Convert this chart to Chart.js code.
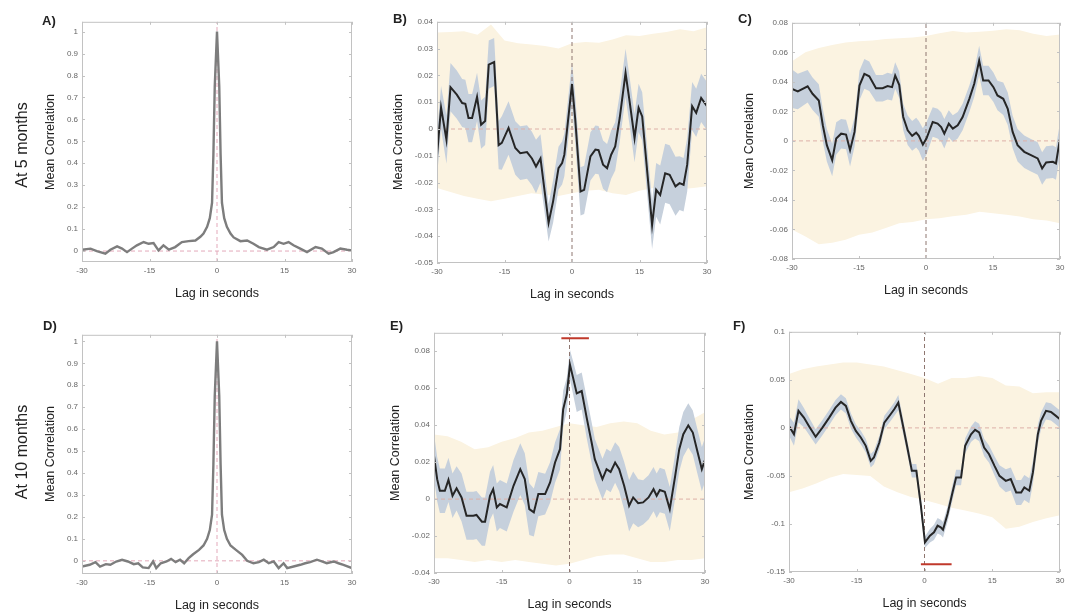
<!DOCTYPE html>
<html>
<head>
<meta charset="utf-8">
<script src="https://cdn.jsdelivr.net/npm/chart.js@4.4.1/dist/chart.umd.min.js"></script>
<style>
  body { margin: 0; width: 1066px; height: 615px; position: relative; overflow: hidden; background: #fff;
         font-family: "Liberation Sans", Arial, sans-serif; color: #222; }
  canvas { position: absolute; }
  .txt { position: absolute; white-space: nowrap; transform: translate(-50%, -50%); }
  .rot { transform: translate(-50%, -50%) rotate(-90deg); }
  .ttl { font-size: 12.5px; }
  .row { font-size: 16px; }
  .tag { position: absolute; font-size: 13px; font-weight: bold; }
</style>
</head>
<body>
<script>
// lag axis + tick labels
const X_TICKS = [-30, -15, 0, 15, 30];
const Y_TICKS_ACF = [0, 0.1, 0.2, 0.3, 0.4, 0.5, 0.6, 0.7, 0.8, 0.9, 1];
const Y_TICKS_B = [-0.05, -0.04, -0.03, -0.02, -0.01, 0, 0.01, 0.02, 0.03, 0.04];
const Y_TICKS_C = [-0.08, -0.06, -0.04, -0.02, 0, 0.02, 0.04, 0.06, 0.08];
const Y_TICKS_E = [-0.04, -0.02, 0, 0.02, 0.04, 0.06, 0.08];
const Y_TICKS_F = [-0.15, -0.1, -0.05, 0, 0.05, 0.1];

// A) autocorrelation, 5 months
const lagA = [-30, -28.1, -26.7, -24.8, -23.7, -22.2, -21.1, -20, -18.9, -17.8,
  -16.3, -15.2, -14.1, -13, -11.9, -10.7, -9.3, -7.8, -6.3, -4.8,
  -3.7, -3, -2.2, -1.6, -1.1, -0.8, -0.5, 0, 0.5, 0.8,
  1.1, 1.6, 2.2, 3, 3.7, 5.2, 6.7, 8.1, 9.3, 11.1,
  12.6, 13.7, 14.8, 15.9, 17, 18.5, 20, 21.9, 23.3, 24.8,
  25.9, 27.4, 28.9, 30];
const acfA = [0.006, 0.011, 0, -0.012, 0.006, 0.021, 0.011, -0.005, 0.011, 0.026,
  0.041, 0.033, 0.036, 0.003, 0.026, 0.006, 0.018, 0.041, 0.045, 0.048,
  0.065, 0.08, 0.11, 0.15, 0.22, 0.44, 0.75, 1.0, 0.75, 0.44,
  0.22, 0.15, 0.11, 0.08, 0.062, 0.045, 0.048, 0.033, 0.018, 0.006,
  0.018, 0.041, 0.033, 0.041, 0.026, 0.011, -0.005, 0.018, 0.011, -0.012,
  -0.005, 0.011, 0.006, 0.003];

// D) autocorrelation, 10 months
const lagD = [-30, -28.3, -27, -26, -24.7, -23.7, -22.4, -21.1, -19.8, -18.5,
  -17.5, -16.5, -15.2, -14.2, -13.5, -12.5, -11.2, -10.2, -9.2, -8.2,
  -7.3, -6.3, -5.3, -4, -3, -2.2, -1.6, -1.1, -0.8, -0.5,
  0, 0.5, 0.8, 1.1, 1.6, 2.2, 3, 4.2, 5.6, 6.7,
  8.1, 9.3, 10.4, 11.5, 12.6, 13.7, 14.8, 15.6, 17, 18.5,
  19.6, 20.7, 22.2, 23.3, 24.4, 25.9, 27, 28.1, 30];
const acfD = [-0.026, -0.018, -0.006, -0.026, -0.015, -0.018, -0.003, 0.005, -0.003, -0.015,
  -0.011, -0.03, -0.033, -0.003, -0.033, -0.011, -0.003, 0.009, -0.006, 0.005,
  -0.011, 0.012, 0.03, 0.05, 0.07, 0.1, 0.14, 0.21, 0.44, 0.75,
  1.0, 0.75, 0.44, 0.21, 0.14, 0.1, 0.07, 0.05, 0.027, 0,
  -0.011, -0.006, 0.005, -0.011, -0.003, -0.033, -0.011, -0.033, -0.026, -0.018,
  -0.011, -0.006, 0.005, -0.003, -0.011, -0.003, -0.011, -0.018, -0.033];

// B) cross-correlation, 5 months
const lagB = [-30, -29.1, -27.9, -27, -25.6, -24.4, -23.7, -23, -22.2, -21.1,
  -20.2, -19.3, -18.5, -17.3, -16.3, -15.6, -14.1, -12.6, -11.5, -10,
  -8.9, -8, -7, -5.2, -4.2, -3, -2.2, -1.7, 0, 0.7,
  1.9, 2.7, 4.1, 5.2, 5.9, 6.9, 7.8, 8.7, 9.6, 10.6,
  11.9, 12.8, 13.9, 14.8, 15.6, 17.8, 18.7, 19.6, 20.7, 21.7,
  23, 23.9, 24.8, 25.6, 26.7, 27.6, 28.7, 30];
const meanB = [-0.010, 0.008, -0.004, 0.0156, 0.0128, 0.0097, 0.0094, 0.0041, 0.0041, 0.012,
  0.0016, 0.003, 0.024, 0.025, -0.006, -0.0052, 0.0004, -0.0071, -0.009, -0.0086,
  -0.011, -0.014, -0.011, -0.035, -0.027, -0.0146, -0.0127, -0.0096, 0.0168, 0.004,
  -0.0233, -0.0227, -0.0102, -0.0077, -0.0079, -0.0133, -0.0146, -0.0096, -0.0065, 0.0041,
  0.0209, 0.0103, -0.0034, 0.0079, 0.0047, -0.0358, -0.0227, -0.0246, -0.0165, -0.0171,
  -0.0214, -0.0202, -0.0208, -0.0133, 0.0085, 0.006, 0.0116, 0.0085];
const semB = [0.008, 0.008, 0.009, 0.009, 0.009, 0.009, 0.009, 0.009, 0.009, 0.009,
  0.009, 0.009, 0.009, 0.009, 0.009, 0.010, 0.010, 0.010, 0.010, 0.010,
  0.010, 0.010, 0.009, 0.007, 0.008, 0.008, 0.008, 0.008, 0.008, 0.009,
  0.009, 0.009, 0.009, 0.009, 0.009, 0.009, 0.009, 0.009, 0.009, 0.009,
  0.009, 0.009, 0.009, 0.009, 0.009, 0.009, 0.010, 0.011, 0.011, 0.011,
  0.011, 0.010, 0.010, 0.010, 0.009, 0.009, 0.009, 0.009];

// C) cross-correlation, 5 months
const lagC = [-30, -28.7, -26.5, -25.4, -24, -23.1, -22.2, -21, -20.1, -19,
  -17.9, -17, -16, -14.9, -13.8, -12.7, -11.2, -9.7, -8.6, -7.6,
  -6.9, -6, -5.1, -4.1, -3.1, -2.2, -1.6, -0.7, 0.1, 1.5,
  2.6, 3.4, 4.1, 5.1, 6, 7.1, 8.2, 9.7, 10.8, 11.9,
  12.8, 14, 15.1, 16, 17.3, 18.3, 19.4, 20.5, 22, 23.5,
  25, 26, 26.9, 28.4, 29.1, 30];
const meanC = [0.0353, 0.0335, 0.037, 0.0319, 0.0274, 0.0106, -0.0029, -0.013, 0.0016, 0.0049,
  0.0043, -0.0063, 0.0061, 0.0375, 0.0454, 0.0438, 0.0357, 0.0357, 0.0371, 0.0364,
  0.0443, 0.038, 0.0162, 0.0072, 0.0034, 0.0056, 0.0034, -0.0025, 0.0016, 0.0128,
  0.0117, 0.0094, 0.0049, 0.0117, 0.0083, 0.0106, 0.0162, 0.0285, 0.0387, 0.0544,
  0.0409, 0.0409, 0.0364, 0.0308, 0.0285, 0.0218, 0.0061, -0.0029, -0.0074, -0.0097,
  -0.0119, -0.0187, -0.0146, -0.0142, -0.0153, 0.0016];
const semC = [0.013, 0.012, 0.011, 0.011, 0.011, 0.011, 0.011, 0.011, 0.011, 0.010,
  0.010, 0.011, 0.010, 0.010, 0.010, 0.010, 0.009, 0.009, 0.009, 0.009,
  0.009, 0.009, 0.009, 0.010, 0.010, 0.010, 0.010, 0.011, 0.011, 0.010,
  0.010, 0.010, 0.010, 0.009, 0.009, 0.009, 0.009, 0.009, 0.009, 0.010,
  0.010, 0.010, 0.010, 0.010, 0.011, 0.011, 0.011, 0.011, 0.011, 0.011,
  0.011, 0.011, 0.011, 0.011, 0.011, 0.011];

// E) cross-correlation, 10 months
const lagE = [-30, -29.3, -28.7, -27.6, -26.8, -25.9, -25, -23.9, -22.8, -21.3,
  -20.6, -19.4, -18.7, -17.6, -16.9, -16.1, -15.4, -13.9, -12.4, -10.9,
  -9.9, -8.9, -7.9, -6.9, -5.4, -4.3, -3.2, -2.1, -1.4, -0.6,
  0.1, 0.8, 1.6, 2.7, 3.8, 4.9, 5.6, 6.6, 7.3, 8.2,
  9.1, 10.1, 11, 12.1, 13.2, 14.1, 15.2, 16.3, 17.5, 18.6,
  19.3, 20, 21.1, 22.2, 23.4, 24.3, 25.2, 26.3, 27.3, 28.2,
  29.3, 30];
const meanE = [0.0234, 0.0108, 0.0045, 0.0045, 0.0104, 0.0018, 0.0058, 0.0009, -0.009, -0.009,
  -0.0086, -0.0122, -0.0122, 0.0018, 0.0054, -0.0045, -0.0027, -0.0045, 0.0072, 0.0162,
  0.0108, -0.0054, -0.0072, 0.0027, 0.0027, 0.009, 0.0198, 0.027, 0.0486, 0.0567,
  0.0728, 0.0656, 0.0572, 0.0585, 0.0441, 0.0306, 0.0216, 0.0153, 0.0108, 0.0162,
  0.0147, 0.0198, 0.0162, 0.0072, -0.0036, 0.0009, -0.0022, -0.0018, 0.0009, 0.0054,
  0.0018, 0.0049, 0.004, -0.0054, 0.0126, 0.027, 0.0351, 0.0399, 0.036, 0.027,
  0.0162, 0.0212];
const semE = [0.012, 0.012, 0.012, 0.012, 0.012, 0.012, 0.012, 0.013, 0.013, 0.013,
  0.013, 0.013, 0.013, 0.013, 0.013, 0.013, 0.013, 0.013, 0.014, 0.014,
  0.014, 0.014, 0.013, 0.012, 0.011, 0.011, 0.011, 0.011, 0.010, 0.009,
  0.008, 0.009, 0.010, 0.010, 0.011, 0.011, 0.011, 0.011, 0.011, 0.011,
  0.011, 0.011, 0.012, 0.013, 0.014, 0.014, 0.013, 0.012, 0.012, 0.012,
  0.012, 0.012, 0.012, 0.012, 0.012, 0.012, 0.012, 0.012, 0.012, 0.012,
  0.012, 0.012];

// F) cross-correlation, 10 months
const lagF = [-30, -28.9, -27.9, -26.7, -25.6, -24.1, -22.6, -21.1, -19.7, -18.5,
  -17.4, -16.3, -15.2, -14.1, -13, -11.9, -11.2, -10, -8.9, -7.5,
  -6.7, -5.8, -4.9, -3.8, -2.8, -1.8, -0.8, 0.1, 1.2, 2.1,
  2.9, 3.6, 4.1, 5.1, 6.2, 7, 8.1, 9, 10.3, 11.2,
  12.1, 13.2, 14.3, 15.5, 16.6, 18, 19.1, 20.3, 21.4, 22.1,
  23.2, 24, 25.1, 25.8, 26.9, 28, 29.1, 30];
const meanF = [0.002, -0.0066, 0.0177, 0.0107, 0.002, -0.0093, 0.0003, 0.0107, 0.0211, 0.027,
  0.0229, 0.0073, -0.0031, -0.01, -0.0187, -0.0343, -0.0308, -0.0152, 0.0055, 0.0142,
  0.0194, 0.0263, 0.0055, -0.0204, -0.0447, -0.0447, -0.081, -0.1191, -0.1122, -0.1087,
  -0.1018, -0.1035, -0.106, -0.0897, -0.0672, -0.0516, -0.0516, -0.0187, -0.0066, -0.0021,
  -0.0048, -0.0204, -0.0274, -0.0395, -0.0499, -0.0551, -0.0533, -0.0672, -0.0672, -0.062,
  -0.0654, -0.0464, -0.0066, 0.0073, 0.0177, 0.0166, 0.0125, 0.009];
const semF = [0.010, 0.012, 0.012, 0.010, 0.009, 0.008, 0.008, 0.008, 0.008, 0.008,
  0.008, 0.008, 0.007, 0.007, 0.007, 0.007, 0.007, 0.007, 0.007, 0.007,
  0.007, 0.008, 0.008, 0.007, 0.007, 0.007, 0.007, 0.006, 0.007, 0.008,
  0.008, 0.008, 0.008, 0.008, 0.008, 0.008, 0.008, 0.008, 0.008, 0.009,
  0.009, 0.009, 0.009, 0.010, 0.011, 0.012, 0.012, 0.013, 0.013, 0.013,
  0.013, 0.012, 0.010, 0.009, 0.009, 0.009, 0.009, 0.009];

// surrogate (null) 95% envelopes, sampled every 3 s
const NULL_LAG = [-30, -27, -24, -21, -18, -15, -12, -9, -6, -3, 0, 3, 6, 9, 12, 15, 18, 21, 24, 27, 30];
const nullHiB = [0.036, 0.0362, 0.0365, 0.0352, 0.039, 0.033, 0.032, 0.0315, 0.031, 0.030, 0.032,
  0.0325, 0.0322, 0.0334, 0.035, 0.0347, 0.0355, 0.0362, 0.0372, 0.0365, 0.038];
const nullLoB = [-0.022, -0.0235, -0.025, -0.026, -0.027, -0.026, -0.025, -0.024, -0.0245, -0.025, -0.024,
  -0.023, -0.0227, -0.024, -0.0246, -0.023, -0.022, -0.0225, -0.0225, -0.022, -0.0214];
const nullHiC = [0.054, 0.060, 0.063, 0.065, 0.0667, 0.0675, 0.068, 0.069, 0.0695, 0.070, 0.071,
  0.073, 0.0745, 0.0735, 0.074, 0.0746, 0.0757, 0.075, 0.0725, 0.071, 0.072];
const nullLoC = [-0.060, -0.0647, -0.070, -0.069, -0.067, -0.0636, -0.062, -0.059, -0.0557, -0.055, -0.053,
  -0.0524, -0.051, -0.050, -0.048, -0.049, -0.050, -0.0512, -0.053, -0.054, -0.0557];
const nullHiE = [0.035, 0.034, 0.031, 0.027, 0.028, 0.031, 0.033, 0.036, 0.037, 0.039, 0.041,
  0.040, 0.039, 0.041, 0.042, 0.041, 0.037, 0.035, 0.036, 0.043, 0.047];
const nullLoE = [-0.032, -0.032, -0.033, -0.034, -0.033, -0.034, -0.033, -0.034, -0.035, -0.036, -0.035,
  -0.033, -0.031, -0.030, -0.030, -0.032, -0.034, -0.034, -0.033, -0.033, -0.032];
const nullHiF = [0.056, 0.061, 0.064, 0.066, 0.068, 0.068, 0.066, 0.064, 0.060, 0.056, 0.052,
  0.046, 0.052, 0.052, 0.054, 0.052, 0.044, 0.043, 0.036, 0.037, 0.037];
const nullLoF = [-0.067, -0.063, -0.058, -0.052, -0.048, -0.049, -0.050, -0.061, -0.067, -0.072, -0.075,
  -0.079, -0.083, -0.086, -0.089, -0.093, -0.105, -0.103, -0.098, -0.094, -0.091];

// significant windows (red bars)
const sigE = [-1.8, 4.3], sigLevelE = 0.087;
const sigF = [-0.8, 6.0], sigLevelF = -0.142;

const P = {
  line: "#262626",
  acf: "#7d7d7d",
  sem: "#c6d0dc",
  nul: "#fbf3e1",
  zeroH: "#ddb0a8",
  zeroV: "#8e7670",
  zeroAcf: "#e3a9ba",
  sig: "#c0392b",
  frame: "#c2c2c2",
  tick: "#666",
};

const FONT = { family: "'Liberation Sans', Arial, sans-serif", size: 8 };
const Y_W = 60, X_H = 40, PAD_T = 8, PAD_R = 10;
const X_MIN = -30, X_MAX = 30;

const pts = (xs, ys) => xs.map((x, i) => ({ x, y: ys[i] }));
const fmt = v => String(+Number(v).toFixed(3));

const framePlugin = {
  id: "frame",
  afterDatasetsDraw(chart) {
    const { ctx, chartArea: a, scales: { x, y } } = chart;
    ctx.save();
    ctx.strokeStyle = P.frame;
    ctx.lineWidth = 1;
    ctx.strokeRect(a.left + 0.5, a.top + 0.5, a.width - 1, a.height - 1);
    ctx.beginPath();
    for (const t of x.ticks) {
      const px = Math.round(x.getPixelForValue(t.value)) + 0.5;
      ctx.moveTo(px, a.bottom); ctx.lineTo(px, a.bottom - 3);
      ctx.moveTo(px, a.top); ctx.lineTo(px, a.top + 3);
    }
    for (const t of y.ticks) {
      const py = Math.round(y.getPixelForValue(t.value)) + 0.5;
      ctx.moveTo(a.left, py); ctx.lineTo(a.left + 3, py);
      ctx.moveTo(a.right, py); ctx.lineTo(a.right - 3, py);
    }
    ctx.stroke();
    ctx.restore();
  },
};

function opts(yMin, yMax, yTicks) {
  const tickOpts = { font: FONT, color: P.tick, padding: 4, autoSkip: false, maxRotation: 0, callback: fmt };
  const grid = { display: false, drawTicks: false };
  return {
    responsive: false,
    animation: false,
    events: [],
    layout: { padding: { left: 0, top: PAD_T, right: PAD_R, bottom: 0 } },
    plugins: { legend: { display: false }, tooltip: { enabled: false } },
    elements: { point: { radius: 0 }, line: { tension: 0 } },
    scales: {
      x: {
        type: "linear", min: X_MIN, max: X_MAX,
        grid, border: { display: false },
        ticks: tickOpts,
        afterBuildTicks: s => { s.ticks = X_TICKS.map(v => ({ value: v })); },
        afterFit: s => { s.height = X_H; },
      },
      y: {
        min: yMin, max: yMax,
        grid, border: { display: false },
        ticks: tickOpts,
        afterBuildTicks: s => { s.ticks = yTicks.map(v => ({ value: v })); },
        afterFit: s => { s.width = Y_W; },
      },
    },
  };
}

function dash(data, color) {
  return { data, borderColor: color, borderWidth: 1, borderDash: [4, 3], fill: false, order: 1 };
}

function band(xs, hi, lo, color, order) {
  return [
    { data: pts(xs, hi), borderColor: "transparent", borderWidth: 0, backgroundColor: color, fill: "+1", order },
    { data: pts(xs, lo), borderColor: "transparent", borderWidth: 0, fill: false, order },
  ];
}

function make(box, yMin, yMax, yTicks, datasets) {
  const [l, t, r, b] = box;
  const canvas = document.createElement("canvas");
  canvas.width = r - l + Y_W + PAD_R;
  canvas.height = b - t + PAD_T + X_H;
  canvas.style.left = (l - Y_W) + "px";
  canvas.style.top = (t - PAD_T) + "px";
  document.body.appendChild(canvas);
  new Chart(canvas.getContext("2d"), {
    type: "line",
    data: { datasets },
    options: opts(yMin, yMax, yTicks),
    plugins: [framePlugin],
  });
}

function text(str, x, y, cls) {
  const el = document.createElement("div");
  el.className = "txt " + cls;
  el.style.left = x + "px";
  el.style.top = y + "px";
  el.textContent = str;
  document.body.appendChild(el);
}

function tag(str, x, y) {
  const el = document.createElement("div");
  el.className = "tag";
  el.style.left = x + "px";
  el.style.top = y + "px";
  el.textContent = str;
  document.body.appendChild(el);
}

function titles(box, dx) {
  const [l, t, r, b] = box;
  text("Mean Correlation", l - dx, (t + b) / 2, "ttl rot");
  text("Lag in seconds", (l + r) / 2, b + 31, "ttl");
}

function acfPanel(box, lags, vals, yMin, yMax) {
  make(box, yMin, yMax, Y_TICKS_ACF, [
    { data: pts(lags, vals), borderColor: P.acf, borderWidth: 2.4, fill: false, order: 0 },
    dash([{ x: X_MIN, y: 0 }, { x: X_MAX, y: 0 }], P.zeroAcf),
    dash([{ x: 0, y: yMin }, { x: 0, y: yMax }], P.zeroAcf),
  ]);
}

function xcorrPanel(box, yMin, yMax, yTicks, lags, mean, sem, nullHi, nullLo, sig, sigLevel) {
  const hi = mean.map((m, i) => m + sem[i]);
  const lo = mean.map((m, i) => m - sem[i]);
  const ds = [
    { data: pts(lags, mean), borderColor: P.line, borderWidth: 2, fill: false, order: 0 },
    dash([{ x: X_MIN, y: 0 }, { x: X_MAX, y: 0 }], P.zeroH),
    dash([{ x: 0, y: yMin }, { x: 0, y: yMax }], P.zeroV),
    ...band(lags, hi, lo, P.sem, 2),
    ...band(NULL_LAG, nullHi, nullLo, P.nul, 3),
  ];
  if (sig) {
    ds.push({ data: sig.map(x => ({ x, y: sigLevel })), borderColor: P.sig, borderWidth: 2, fill: false, order: 0 });
  }
  make(box, yMin, yMax, yTicks, ds);
}

const boxA = [82, 21, 352, 262];
const boxB = [437, 21, 707, 263];
const boxC = [792, 22, 1060, 259];
const boxD = [82, 334, 352, 574];
const boxE = [434, 332, 705, 573];
const boxF = [789, 331, 1060, 572];

acfPanel(boxA, lagA, acfA, -0.05, 1.045);
acfPanel(boxD, lagD, acfD, -0.06, 1.03);
xcorrPanel(boxB, -0.05, 0.04, Y_TICKS_B, lagB, meanB, semB, nullHiB, nullLoB);
xcorrPanel(boxC, -0.08, 0.08, Y_TICKS_C, lagC, meanC, semC, nullHiC, nullLoC);
xcorrPanel(boxE, -0.04, 0.09, Y_TICKS_E, lagE, meanE, semE, nullHiE, nullLoE, sigE, sigLevelE);
xcorrPanel(boxF, -0.15, 0.1, Y_TICKS_F, lagF, meanF, semF, nullHiF, nullLoF, sigF, sigLevelF);

titles(boxA, 32);
titles(boxB, 39);
titles(boxC, 43);
titles(boxD, 32);
titles(boxE, 39);
titles(boxF, 40);

tag("A)", 42, 13);
tag("B)", 393, 11);
tag("C)", 738, 11);
tag("D)", 43, 318);
tag("E)", 390, 318);
tag("F)", 733, 318);

text("At 5 months", 22, 145, "row rot");
text("At 10 months", 22, 452, "row rot");
</script>
</body>
</html>
